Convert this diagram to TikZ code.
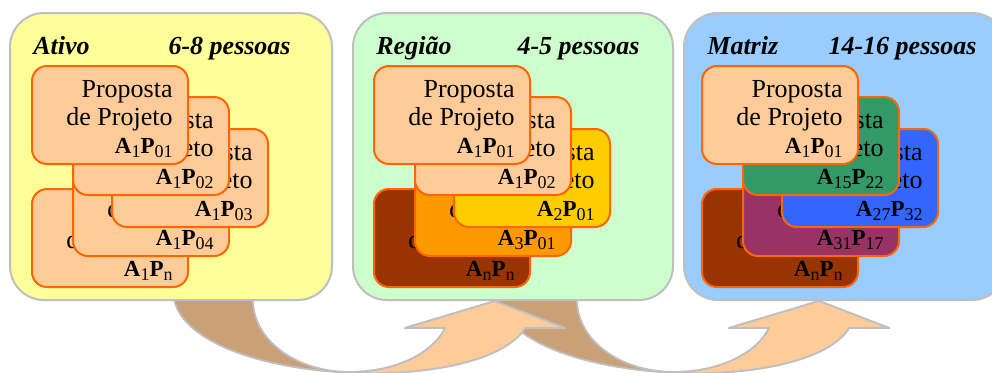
\documentclass[tikz,border=0pt]{standalone}
\usepackage{fontspec}
\setmainfont{Liberation Serif}
\definecolor{panelgray}{HTML}{BFBFBF}
\definecolor{yel}{HTML}{FFFF99}
\definecolor{grn}{HTML}{CCFFCC}
\definecolor{blu}{HTML}{99CCFF}
\definecolor{peach}{HTML}{FFCC99}
\definecolor{cardline}{HTML}{FF6600}
\definecolor{cgold}{HTML}{FFCC00}
\definecolor{corange}{HTML}{FF9900}
\definecolor{cbrown}{HTML}{993300}
\definecolor{cgreen}{HTML}{339966}
\definecolor{cblue}{HTML}{3366FF}
\definecolor{cplum}{HTML}{993366}
\definecolor{ctan}{HTML}{C9A078}
\newcommand\subx[1]{\raisebox{-0.4ex}{\fontsize{9}{10}\selectfont #1}}
\newcommand\lab[2]{\textbf{A}\subx{#1}\textbf{P}\subx{#2}}
\tikzset{
  panel/.style={draw=panelgray, line width=1pt, rounded corners=17pt, minimum width=161pt, minimum height=143.5pt, inner sep=0pt},
  card/.style={draw=cardline, line width=1pt, rounded corners=7.5pt, minimum width=78pt, minimum height=49pt, inner sep=0pt},
  ptxt/.style={inner sep=0pt, font=\fontsize{13}{15}\selectfont},
  ltxt/.style={inner sep=0pt, font=\fontsize{11.5}{13}\selectfont},
  ttl/.style={inner sep=0pt, font=\fontsize{13}{15}\selectfont\bfseries\itshape},
  arrowline/.style={draw=panelgray, line width=0.9pt, line join=round}
}
\newcommand\pcard[5]{%
  \begin{scope}[shift={(#2,#3)}]
    \node[card, fill=#4] (#1) at (78,49) {};
    \node[ptxt, anchor=base east] (#1-a) at (141,31) {Proposta};
    \node[ptxt, anchor=base east] (#1-b) at (141,59) {de Projeto};
    \node[ltxt, anchor=base east] (#1-c) at (141,87) {#5};
  \end{scope}}
\newcommand\bentarrow[1]{%
  \begin{scope}[shift={(#1,0)}]
    \path[arrowline, fill=ctan] (173,280) -- (173,290) .. controls (173,385) and (480,400) .. (525,328)
      -- (565,328) -- (495,301) -- (405,328) -- (445,328)
      .. controls (435,350) and (400,372) .. (350,372)
      .. controls (296,372) and (253,340) .. (253,300) -- (253,280) -- cycle;
    \begin{scope}
      \clip (350,280) rectangle (700,420);
      \path[arrowline, fill=peach] (173,280) -- (173,290) .. controls (173,385) and (480,400) .. (525,328)
        -- (565,328) -- (495,301) -- (405,328) -- (445,328)
        .. controls (435,350) and (400,372) .. (350,372)
        .. controls (296,372) and (253,340) .. (253,300) -- (253,280) -- cycle;
    \end{scope}
  \end{scope}}
\begin{document}
\begin{tikzpicture}[x=0.5pt, y=-0.5pt]
\useasboundingbox (0,0) rectangle (992,372);
\clip (0,0) rectangle (992,372);
\fill[white] (0,0) rectangle (992,372);
% arrows (behind panels)
\bentarrow{324}
\bentarrow{0}
% panels
\node[panel, fill=yel] (p1) at (171,156.5) {};
\node[panel, fill=grn, minimum width=160pt] (p2) at (513,156.5) {};
\node[panel, fill=blu] (p3) at (845,156.5) {};
% titles
\node[ttl, anchor=base west] (t1a) at (33,54) {Ativo};
\node[ttl, anchor=base east] (t1b) at (291,54) {6-8 pessoas};
\node[ttl, anchor=base west] (t2a) at (376,54) {Região};
\node[ttl, anchor=base east] (t2b) at (640,54) {4-5 pessoas};
\node[ttl, anchor=base west] (t3a) at (707,54) {Matriz};
\node[ttl, anchor=base east] (t3b) at (977,54) {14-16 pessoas};
% panel 1 cards
\pcard{ae}{32}{189}{peach}{\lab{1}{n}}
\pcard{ad}{73}{158}{peach}{\lab{1}{04}}
\pcard{ac}{112}{129}{peach}{\lab{1}{03}}
\pcard{ab}{73}{97}{peach}{\lab{1}{02}}
\pcard{aa}{32}{66}{peach}{\lab{1}{01}}
% panel 2 cards
\pcard{be}{374}{189}{cbrown}{\lab{n}{n}}
\pcard{bd}{415}{158}{corange}{\lab{3}{01}}
\pcard{bc}{454}{129}{cgold}{\lab{2}{01}}
\pcard{bb}{415}{97}{peach}{\lab{1}{02}}
\pcard{ba}{374}{66}{peach}{\lab{1}{01}}
% panel 3 cards
\pcard{ce}{702}{189}{cbrown}{\lab{n}{n}}
\pcard{cd}{743}{158}{cplum}{\lab{31}{17}}
\pcard{cc}{782}{129}{cblue}{\lab{27}{32}}
\pcard{cb}{743}{97}{cgreen}{\lab{15}{22}}
\pcard{ca}{702}{66}{peach}{\lab{1}{01}}
\end{tikzpicture}
\end{document}
